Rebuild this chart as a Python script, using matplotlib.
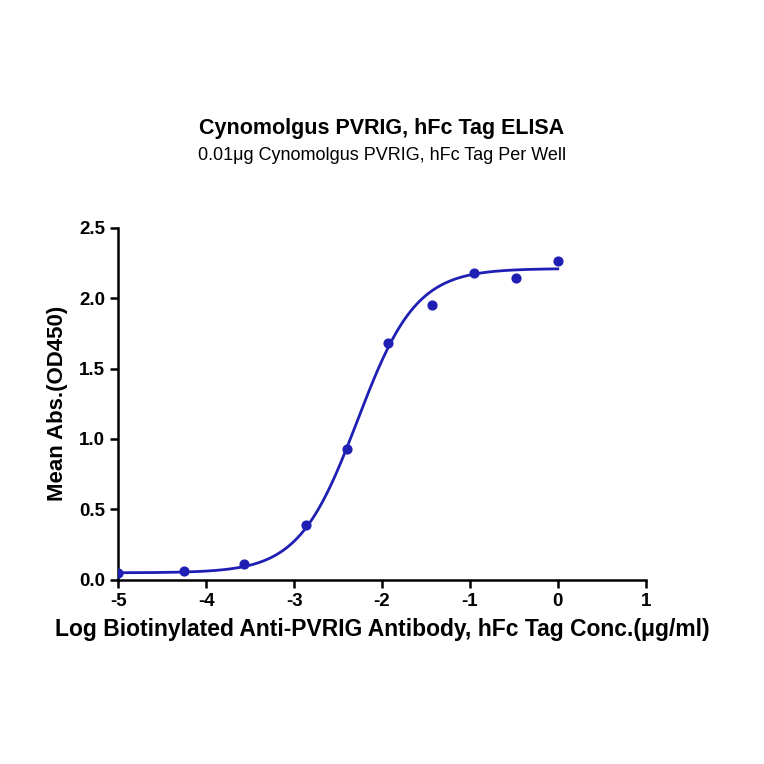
import numpy as np
import matplotlib
matplotlib.use("Agg")
import matplotlib.pyplot as plt

plt.rcParams['font.family'] = ['Liberation Sans', 'DejaVu Sans']
plt.rcParams['axes.unicode_minus'] = False

# measured points
log_conc = [-5.0, -4.25, -3.57, -2.87, -2.4, -1.93, -1.43, -0.95, -0.48, 0.0]
mean_abs = [0.05, 0.06, 0.11, 0.39, 0.93, 1.68, 1.95, 2.18, 2.14, 2.26]

# 4PL fit parameters
bottom, top, log_ec50, hill = 0.05, 2.21, -2.28, 1.3

color = '#1f1fb4'

fig = plt.figure(figsize=(7.64, 7.64), dpi=100)
ax = fig.add_axes([0.155, 0.241, 0.69, 0.461])

xs = np.linspace(-5, 0, 300)
ys = bottom + (top - bottom) / (1 + 10 ** ((log_ec50 - xs) * hill))
ax.plot(xs, ys, color=color, lw=2)
ax.scatter(log_conc, mean_abs, color=color, s=40, zorder=3)

ax.set_xlim(-5, 1)
ax.set_ylim(0, 2.5)
ax.set_xticks(range(-5, 2))
ax.set_yticks([0, 0.5, 1.0, 1.5, 2.0, 2.5])
ax.set_yticklabels(['0.0', '0.5', '1.0', '1.5', '2.0', '2.5'])
for s in ['top', 'right']:
    ax.spines[s].set_visible(False)
for s in ['left', 'bottom']:
    ax.spines[s].set_linewidth(1.8)
ax.tick_params(width=1.8, length=6, labelsize=13.5)
for lab in ax.get_xticklabels() + ax.get_yticklabels():
    lab.set_fontweight('bold')

ax.set_xlabel('Log Biotinylated Anti-PVRIG Antibody, hFc Tag Conc.(μg/ml)',
              fontsize=16.5, fontweight='bold', labelpad=6)
ax.set_ylabel('Mean Abs.(OD450)', fontsize=16, fontweight='bold', labelpad=8)

fig.text(0.5, 0.825, 'Cynomolgus PVRIG, hFc Tag ELISA', ha='center',
         fontsize=15.5, fontweight='bold')
fig.text(0.5, 0.790, '0.01μg Cynomolgus PVRIG, hFc Tag Per Well', ha='center',
         fontsize=13)

fig.savefig('out.png', dpi=100)
